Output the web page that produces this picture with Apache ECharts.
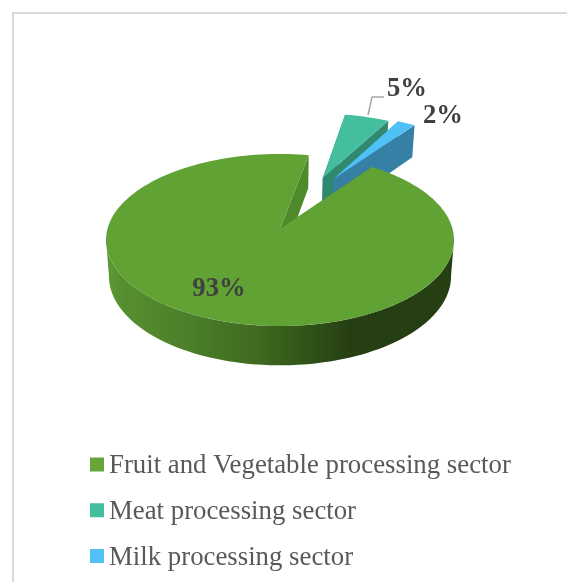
<!DOCTYPE html>
<html>
	<head>
		<title>Processing sectors</title>
		<script src="https://cdn.jsdelivr.net/npm/echarts@6/dist/echarts.min.js"></script>
	</head>
	<body style="margin:0;padding:0;background:#fff">
		<div id="chart" style="width:567px;height:582px"></div>
	</body>
	<script type="text/javascript">
		var sectors = ["Fruit and Vegetable processing sector", "Meat processing sector", "Milk processing sector"];
		var shares = [93, 5, 2];

		var topColors = ["#60a234", "#43bf9e", "#4fc1f6"];
		var legendColors = ["#66a638", "#43bf9e", "#4fc1f6"];
		var sideColors = ["#4e8a2b", "#30896f", "#3680a6"];
		// how far each slice is pulled out of the pie, and in which direction (degrees, clockwise from top)
		var explodeDist = [0, 0.705, 0.727];
		var explodeDir = [0, 22.4, 27.6];
		// label centres in pixels, relative to the pie centre
		var labelPos = [[-61, 60], [127, -140], [163, -113]];

		var firstAngle = 36;
		var pie = {cx: 280, cy: 229, rx: 172.6, ry: 84.6, persp: 0.128, depth: 35.7, bottomScale: 0.983};
		// part of the rim that faces the viewer, the rest stays hidden behind the top faces
		var frontRim = [97, 263];

		// ground coordinates (u right, v towards viewer) to screen, layer 0 = top face, 1 = bottom face
		function project(u, v, layer) {
			var s = 1 / (1 - pie.persp * v);
			var k = layer ? pie.bottomScale : 1;
			return [
				pie.cx + pie.rx * u * s * k,
				pie.cy + pie.ry * v * s * k + (layer ? pie.depth * s : 0)
			];
		}

		function sliceAngles(index) {
			var total = shares.reduce(function (a, b) { return a + b; }, 0);
			var before = 0;
			for (var i = 0; i < index; i++) before += shares[i];
			return [firstAngle + before / total * 360, firstAngle + (before + shares[index]) / total * 360];
		}

		function makeRenderItem(index) {
			return function (params, api) {
				var value = api.value(0);
				var angles = sliceAngles(index);
				var dir = explodeDir[index] * Math.PI / 180;
				var ou = explodeDist[index] * Math.sin(dir);
				var ov = -explodeDist[index] * Math.cos(dir);

				function arc(from, to, layer) {
					var steps = Math.max(4, Math.round((to - from) / 2));
					var pts = [];
					for (var i = 0; i <= steps; i++) {
						var a = (from + (to - from) * i / steps) * Math.PI / 180;
						pts.push(project(ou + Math.sin(a), ov - Math.cos(a), layer));
					}
					return pts;
				}

				var topArc = arc(angles[0], angles[1], 0);
				var bottomArc = arc(angles[0], angles[1], 1);
				var last = topArc.length - 1;
				var apexTop = project(ou, ov, 0);
				var apexBottom = project(ou, ov, 1);

				var children = [];

				if (index === 0) {
					var rimTop = arc(frontRim[0], frontRim[1], 0);
					var rimBottom = arc(frontRim[0], frontRim[1], 1);
					children.push({
						type: "polygon",
						shape: {points: rimTop.concat(rimBottom.slice().reverse())},
						style: {
							fill: {
								type: "linear", x: 0, y: 0, x2: 1, y2: 0,
								colorStops: [
									{offset: 0, color: "#5c9a33"},
									{offset: 0.05, color: "#568e2f"},
									{offset: 0.24, color: "#4c7f29"},
									{offset: 0.43, color: "#3f6a20"},
									{offset: 0.62, color: "#2d4c16"},
									{offset: 0.7, color: "#263f12"},
									{offset: 1, color: "#263f12"}
								]
							}
						}
					});
				}

				children.push(
					{
						type: "polygon",
						shape: {points: [apexTop, topArc[0], bottomArc[0], apexBottom]},
						style: {fill: sideColors[index]}
					},
					{
						type: "polygon",
						shape: {points: [apexTop, topArc[last], bottomArc[last], apexBottom]},
						style: {fill: sideColors[index]}
					},
					{
						type: "polygon",
						shape: {points: [apexTop].concat(topArc)},
						style: {fill: topColors[index]}
					}
				);

				// leader line of the 5% label
				if (index === 1) {
					children.push({
						type: "polyline",
						shape: {points: [
							[pie.cx + 88, pie.cy - 114],
							[pie.cx + 92, pie.cy - 132],
							[pie.cx + 104, pie.cy - 132]
						]},
						style: {fill: "none", stroke: "#a6a6a6", lineWidth: 1.5}
					});
				}

				children.push({
					type: "text",
					style: {
						x: pie.cx + labelPos[index][0],
						y: pie.cy + labelPos[index][1],
						text: value + "%",
						textAlign: "center",
						textVerticalAlign: "middle",
						font: "bold 26.67px 'Liberation Serif'",
						fill: "#404040"
					}
				});

				return {type: "group", children: children};
			};
		}

		var seriesZ = [3, 1, 2];
		var series = sectors.map(function (name, i) {
			return {
				name: name,
				type: "custom",
				coordinateSystem: "none",
				z: seriesZ[i],
				itemStyle: {color: legendColors[i]},
				renderItem: makeRenderItem(i),
				data: [[shares[i]]]
			};
		});

		var myChart = echarts.init(document.getElementById("chart"));
		myChart.setOption({
			animation: false,
			backgroundColor: "#fff",
			graphic: [{
				type: "rect",
				shape: {x: 13, y: 13, width: 700, height: 700},
				style: {fill: "none", stroke: "#d9d9d9", lineWidth: 2},
				silent: true
			}],
			legend: {
				orient: "vertical",
				left: 85,
				top: 441,
				height: 141,
				// square with an empty tail below it, lifts the swatch to the middle of the text
				icon: "path://M0,0L14,0L14,14L0,14ZM0,18L0.01,18",
				itemWidth: 14,
				itemHeight: 18,
				itemGap: 4.8,
				data: sectors,
				textStyle: {
					fontFamily: "Liberation Serif",
					fontSize: 26.8,
					color: "#595959"
				}
			},
			series: series
		});
	</script>
</html>
